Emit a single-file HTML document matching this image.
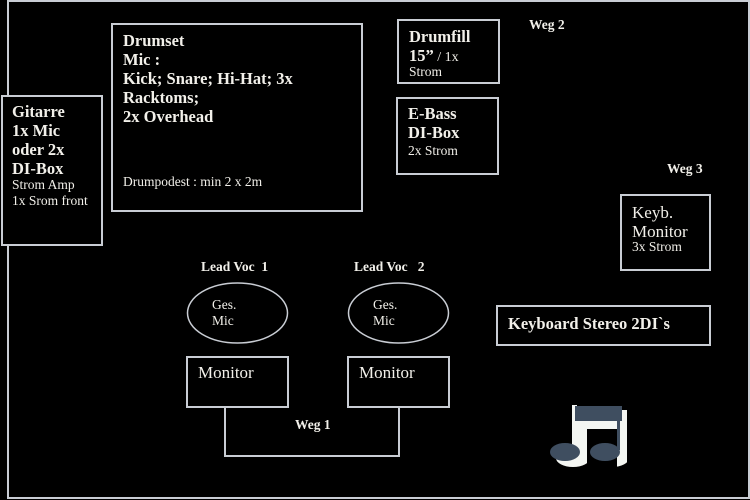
<!DOCTYPE html>
<html><head><meta charset="utf-8"><style>
html,body{margin:0;padding:0;background:#000;}
body{width:750px;height:500px;position:relative;overflow:hidden;font-family:"Liberation Serif",serif;color:#f2f0ea;}
.b{position:absolute;border:2px solid #c9cdd4;box-sizing:border-box;}
.t{position:absolute;white-space:nowrap;}
.h{font-weight:bold;font-size:16.5px;line-height:19px;}
.s{font-size:13.5px;line-height:16px;}
.m{font-size:17px;line-height:19px;}
.w{font-weight:bold;font-size:13.5px;}
</style></head><body>
<div class="b" style="left:7px;top:0;width:743px;height:499px;border-width:2px;"></div>
<svg style="position:absolute;left:0;top:0" width="750" height="500">
<polyline points="225,407 225,456 399,456 399,407" fill="none" stroke="#c9cdd4" stroke-width="2"/>
<ellipse cx="237.5" cy="313" rx="50" ry="30" fill="#000" stroke="#c9cdd4" stroke-width="1.5"/>
<ellipse cx="398.5" cy="313" rx="50" ry="30" fill="#000" stroke="#c9cdd4" stroke-width="1.5"/>
<g>
<rect x="577" y="410" width="50" height="52" fill="#f4f6f2"/>
<ellipse cx="573" cy="458" rx="17" ry="9" fill="#f4f6f2"/>
<ellipse cx="612" cy="458" rx="17" ry="9" fill="#f4f6f2"/>
<rect x="587" y="429" width="30" height="40" fill="#000"/>
<rect x="627" y="400" width="10" height="70" fill="#000"/>
<rect x="572" y="405" width="5" height="50" fill="#f4f6f2"/>
<rect x="622" y="410" width="5" height="50" fill="#f4f6f2"/>
<rect x="575" y="406" width="47" height="15" fill="#3f4e60"/>
<ellipse cx="565" cy="452" rx="15" ry="9" fill="#3f4e60"/>
<ellipse cx="605" cy="452" rx="15" ry="9" fill="#3f4e60"/>
<rect x="582" y="421" width="5" height="38" fill="#f4f6f2"/>
<rect x="617" y="410" width="3" height="40" fill="#3f4e60"/>
</g>
</svg>
<div class="b" style="left:1px;top:95px;width:102px;height:151px;background:#000"></div>
<div class="t h" style="left:12px;top:102px;">Gitarre<br>1x Mic<br>oder 2x<br>DI-Box</div>
<div class="t s" style="left:12px;top:177px;">Strom Amp<br>1x Srom front</div>
<div class="b" style="left:111px;top:23px;width:252px;height:189px;"></div>
<div class="t h" style="left:123px;top:31px;">Drumset<br>Mic :<br>Kick; Snare; Hi-Hat; 3x<br>Racktoms;<br>2x Overhead</div>
<div class="t s" style="left:123px;top:174px;">Drumpodest : min 2 x 2m</div>
<div class="b" style="left:397px;top:19px;width:103px;height:65px;"></div>
<div class="t h" style="left:409px;top:27px;">Drumfill<br>15”<span style="font-weight:normal;font-size:14px"> / 1x</span></div>
<div class="t s" style="left:409px;top:64px;">Strom</div>
<div class="b" style="left:396px;top:97px;width:103px;height:78px;"></div>
<div class="t h" style="left:408px;top:104px;">E-Bass<br>DI-Box</div>
<div class="t s" style="left:408px;top:143px;">2x Strom</div>
<div class="t w" style="left:529px;top:17px;">Weg 2</div>
<div class="t w" style="left:667px;top:161px;">Weg 3</div>
<div class="b" style="left:620px;top:194px;width:91px;height:77px;"></div>
<div class="t m" style="left:632px;top:203px;">Keyb.<br>Monitor</div>
<div class="t s" style="left:632px;top:239px;">3x Strom</div>
<div class="b" style="left:496px;top:305px;width:215px;height:41px;"></div>
<div class="t h" style="left:508px;top:314px;">Keyboard Stereo 2DI`s</div>
<div class="t w" style="left:201px;top:259px;">Lead Voc &nbsp;1</div>
<div class="t w" style="left:354px;top:259px;">Lead Voc &nbsp;&nbsp;2</div>
<div class="t s" style="left:212px;top:297px;">Ges.<br>Mic</div>
<div class="t s" style="left:373px;top:297px;">Ges.<br>Mic</div>
<div class="b" style="left:186px;top:356px;width:103px;height:52px;"></div>
<div class="t m" style="left:198px;top:363px;">Monitor</div>
<div class="b" style="left:347px;top:356px;width:103px;height:52px;"></div>
<div class="t m" style="left:359px;top:363px;">Monitor</div>
<div class="t w" style="left:295px;top:417px;">Weg 1</div>
</body></html>
